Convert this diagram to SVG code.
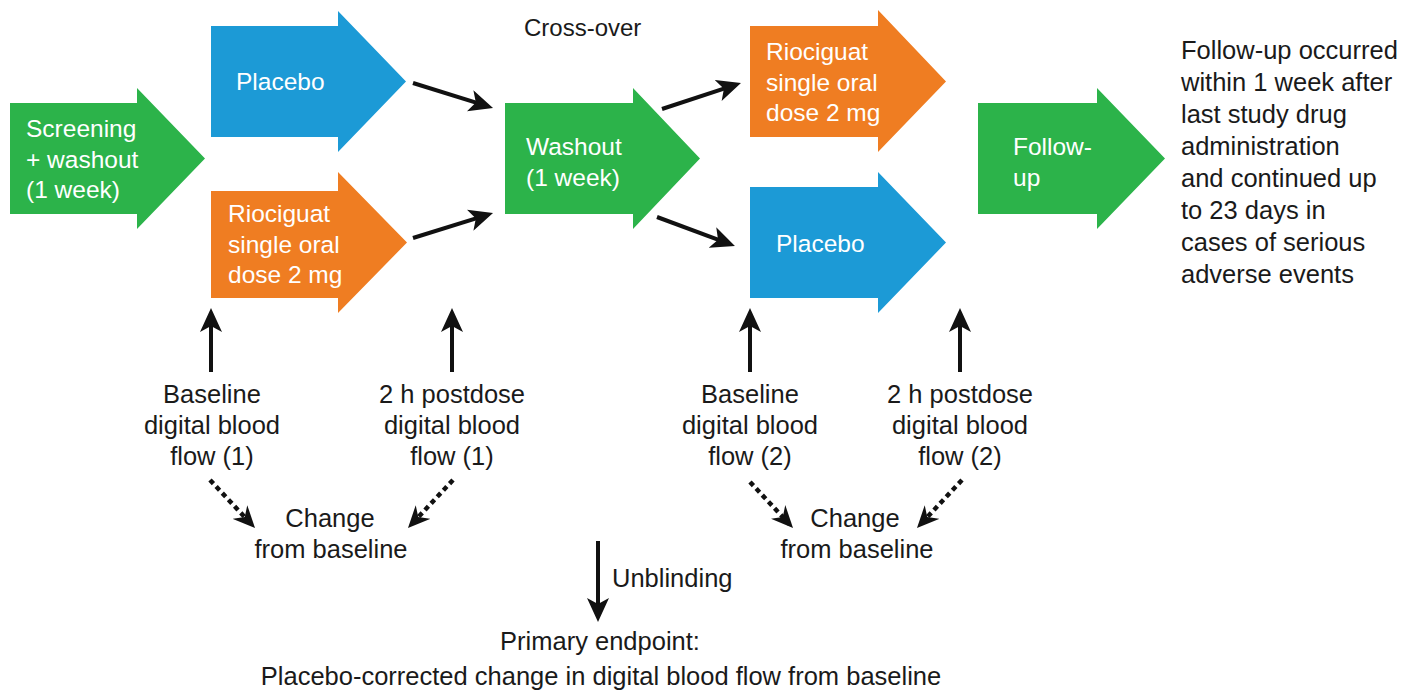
<svg xmlns="http://www.w3.org/2000/svg" width="1403" height="693" viewBox="0 0 1403 693">
<style>
.g{fill:#2cb34a}.b{fill:#1c9ad6}.o{fill:#ef7d22}
.wt{font-family:"Liberation Sans",Arial,sans-serif;font-size:24.5px;fill:#ffffff}
.bt{font-family:"Liberation Sans",Arial,sans-serif;font-size:25.5px;fill:#1a1a1a}
.c{text-anchor:middle}
.ln{stroke:#111;stroke-width:4;fill:none}
.dt{stroke:#111;stroke-width:4.5;fill:none;stroke-dasharray:5 4}
</style>
<defs>
<marker id="ah" markerUnits="userSpaceOnUse" markerWidth="24" markerHeight="22" viewBox="0 0 24 22" refX="18" refY="11" orient="auto">
<path d="M0,0 L24,11 L0,22 L6,11 Z" fill="#111"/>
</marker>
<marker id="ahd" markerUnits="userSpaceOnUse" markerWidth="22" markerHeight="20" viewBox="0 0 22 20" refX="17" refY="10" orient="auto">
<path d="M0,0 L22,10 L0,20 L7,10 Z" fill="#111"/>
</marker>
</defs>
<rect width="1403" height="693" fill="#ffffff"/>

<g id="screening">
<polygon class="g" points="10,103 137,103 137,88 205,158.5 137,229 137,214 10,214"/>
<text class="wt" x="26" y="137">Screening</text>
<text class="wt" x="26" y="167.5">+ washout</text>
<text class="wt" x="26" y="198">(1 week)</text>
</g>

<g id="placebo1">
<polygon class="b" points="211,26 338,26 338,11 406,81.5 338,152 338,137 211,137"/>
<text class="wt" x="236" y="90">Placebo</text>
</g>

<g id="riociguat1">
<polygon class="o" points="211,191 338,191 338,172 407,242.5 338,313 338,298 211,298"/>
<text class="wt" x="228" y="222">Riociguat</text>
<text class="wt" x="228" y="252.5">single oral</text>
<text class="wt" x="228" y="283">dose 2 mg</text>
</g>

<g id="crossover">
<text class="bt" x="524" y="36" style="font-size:24px">Cross-over</text>
</g>

<g id="washout">
<polygon class="g" points="505,103 633,103 633,88 700,158.5 633,229 633,214 505,214"/>
<text class="wt" x="526" y="155">Washout</text>
<text class="wt" x="526" y="186">(1 week)</text>
</g>

<g id="riociguat2">
<polygon class="o" points="750,26 878,26 878,10 946,81.5 878,152 878,137 750,137"/>
<text class="wt" x="766" y="60">Riociguat</text>
<text class="wt" x="766" y="90.5">single oral</text>
<text class="wt" x="766" y="121">dose 2 mg</text>
</g>

<g id="placebo2">
<polygon class="b" points="750,187 878,187 878,172 946,242.5 878,313 878,298 750,298"/>
<text class="wt" x="776" y="252">Placebo</text>
</g>

<g id="followup">
<polygon class="g" points="978,103 1097,103 1097,88 1165,158.5 1097,229 1097,214 978,214"/>
<text class="wt" x="1013" y="155">Follow-</text>
<text class="wt" x="1013" y="186">up</text>
</g>

<g id="followup-note">
<text class="bt" x="1181" y="59">Follow-up occurred</text>
<text class="bt" x="1181" y="91">within 1 week after</text>
<text class="bt" x="1181" y="123">last study drug</text>
<text class="bt" x="1181" y="155">administration</text>
<text class="bt" x="1181" y="187">and continued up</text>
<text class="bt" x="1181" y="219">to 23 days in</text>
<text class="bt" x="1181" y="251">cases of serious</text>
<text class="bt" x="1181" y="283">adverse events</text>
</g>

<g id="baseline1">
<text class="bt c" x="212" y="403">Baseline</text>
<text class="bt c" x="212" y="434">digital blood</text>
<text class="bt c" x="212" y="465">flow (1)</text>
</g>

<g id="postdose1">
<text class="bt c" x="452" y="403">2 h postdose</text>
<text class="bt c" x="452" y="434">digital blood</text>
<text class="bt c" x="452" y="465">flow (1)</text>
</g>

<g id="baseline2">
<text class="bt c" x="750" y="403">Baseline</text>
<text class="bt c" x="750" y="434">digital blood</text>
<text class="bt c" x="750" y="465">flow (2)</text>
</g>

<g id="postdose2">
<text class="bt c" x="960" y="403">2 h postdose</text>
<text class="bt c" x="960" y="434">digital blood</text>
<text class="bt c" x="960" y="465">flow (2)</text>
</g>

<g id="change1">
<text class="bt c" x="330" y="527">Change</text>
<text class="bt c" x="331" y="558">from baseline</text>
</g>

<g id="change2">
<text class="bt c" x="855" y="527">Change</text>
<text class="bt c" x="857" y="558">from baseline</text>
</g>

<g id="primary">
<text class="bt c" x="600" y="650">Primary endpoint:</text>
<text class="bt c" x="601" y="685">Placebo-corrected change in digital blood flow from baseline</text>
</g>

<g id="connectors">
<line class="ln" x1="413" y1="83" x2="487.3" y2="106.2" marker-end="url(#ah)"/>
<line class="ln" x1="413" y1="238" x2="487.3" y2="214.8" marker-end="url(#ah)"/>
<line class="ln" x1="662" y1="109" x2="735.3" y2="84.9" marker-end="url(#ah)"/>
<line class="ln" x1="657" y1="217" x2="729.3" y2="243.8" marker-end="url(#ah)"/>
<line class="ln" x1="211" y1="372" x2="211" y2="314" marker-end="url(#ah)"/>
<line class="ln" x1="452" y1="372" x2="452" y2="314" marker-end="url(#ah)"/>
<line class="ln" x1="750" y1="372" x2="750" y2="314" marker-end="url(#ah)"/>
<line class="ln" x1="960" y1="372" x2="960" y2="314" marker-end="url(#ah)"/>
<line class="ln" x1="598" y1="541" x2="598" y2="616" marker-end="url(#ah)"/>
<text class="bt" x="612" y="587">Unblinding</text>
<line class="dt" x1="210" y1="480" x2="251.6" y2="524.4" marker-end="url(#ahd)"/>
<line class="dt" x1="453" y1="480" x2="411.4" y2="524.4" marker-end="url(#ahd)"/>
<line class="dt" x1="750" y1="482" x2="789.6" y2="524.3" marker-end="url(#ahd)"/>
<line class="dt" x1="962" y1="480" x2="920.4" y2="524.4" marker-end="url(#ahd)"/>
</g>
</svg>
